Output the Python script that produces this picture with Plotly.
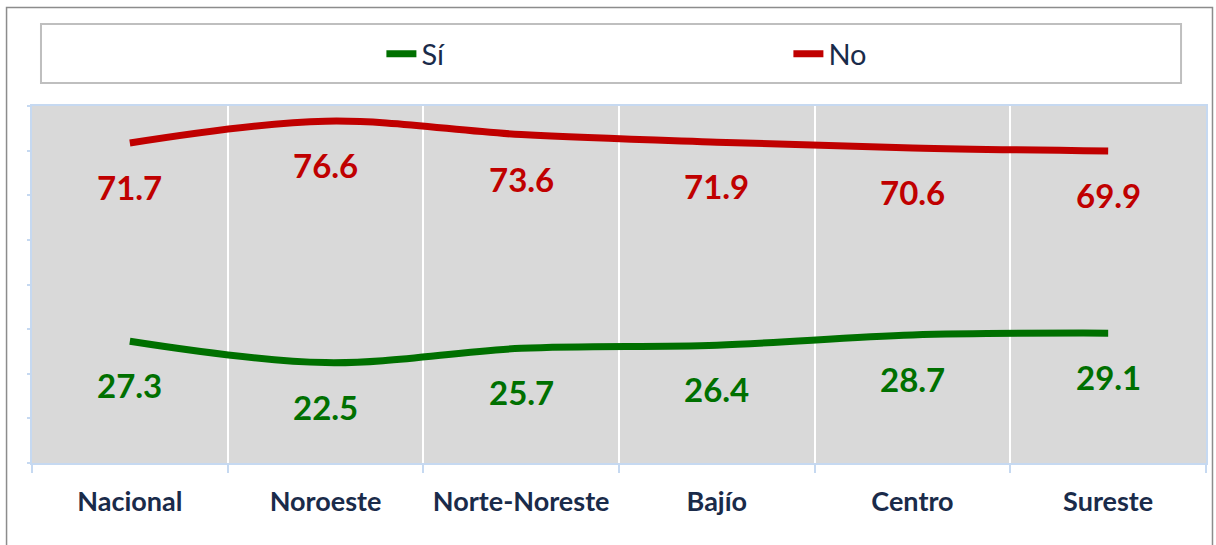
import plotly.graph_objects as go

categories = ["Nacional", "Noroeste", "Norte-Noreste", "Bajío", "Centro", "Sureste"]
si_values = [27.3, 22.5, 25.7, 26.4, 28.7, 29.1]
no_values = [71.7, 76.6, 73.6, 71.9, 70.6, 69.9]

GREEN = "#007000"
RED = "#C00000"
NAVY = "#1A2B4A"
FONT = "Lato"

W, H = 1216, 545
PLOT_L, PLOT_R, PLOT_T, PLOT_B = 32, 1208, 106, 463  # page pixels
L, R, T, B = PLOT_L, W - PLOT_R, PLOT_T, H - PLOT_B
pw, ph = W - L - R, H - T - B

def px_x(x):  # page pixel -> paper
    return (x - L) / pw

def px_y(y):
    return (H - B - y) / ph

fig = go.Figure()
fig.add_trace(go.Scatter(x=categories, y=si_values, name="Sí", mode="lines",
                         line=dict(color=GREEN, width=7, shape="spline", smoothing=1.0)))
fig.add_trace(go.Scatter(x=categories, y=no_values, name="No", mode="lines",
                         line=dict(color=RED, width=7, shape="spline", smoothing=1.0)))

annotations = []
for c, v in zip(categories, si_values):
    annotations.append(dict(x=c, y=v, xref="x", yref="y", text=f"{v:.1f}", showarrow=False,
                            yshift=-44, font=dict(family=FONT, size=33, color=GREEN, weight="bold")))
for c, v in zip(categories, no_values):
    annotations.append(dict(x=c, y=v, xref="x", yref="y", text=f"{v:.1f}", showarrow=False,
                            yshift=-44, font=dict(family=FONT, size=33, color=RED, weight="bold")))

shapes = [
    # outer chart border
    dict(type="rect", xref="paper", yref="paper", x0=px_x(6.5), x1=px_x(1214.5),
         y0=px_y(600), y1=px_y(7.5), line=dict(color="#8C8C8C", width=1.5), layer="below"),
    # legend box
    dict(type="rect", xref="paper", yref="paper", x0=px_x(41), x1=px_x(1183),
         y0=px_y(83), y1=px_y(24), line=dict(color="#BFBFBF", width=2), layer="below"),
]

fig.update_layout(
    width=W, height=H,
    margin=dict(l=L, r=R, t=T, b=B),
    paper_bgcolor="white",
    plot_bgcolor="#D9D9D9",
    font=dict(family=FONT, color=NAVY),
    showlegend=True,
    legend=dict(orientation="h", x=px_x(382), xanchor="left", xref="paper",
                y=px_y(54), yanchor="middle", yref="paper",
                entrywidth=362, entrywidthmode="pixels",
                font=dict(family=FONT, size=29, color=NAVY),
                bgcolor="rgba(0,0,0,0)"),
    annotations=annotations,
    shapes=shapes,
    xaxis=dict(type="category", range=[-0.5, 5.5], tickson="boundaries",
               showgrid=True, gridcolor="white", gridwidth=2,
               showline=True, linecolor="#C6D9F1", linewidth=2, mirror=True,
               ticks="outside", ticklen=8, tickcolor="#C6D9F1", tickwidth=2,
               ticklabelstandoff=14,
               tickfont=dict(family=FONT, size=27, color=NAVY, weight="bold"),
               zeroline=False, fixedrange=True),
    yaxis=dict(range=[0, 80], dtick=10, showgrid=False, zeroline=False,
               showline=True, linecolor="#C6D9F1", linewidth=2, mirror=True,
               ticks="outside", ticklen=3, tickcolor="#C6D9F1", tickwidth=2,
               showticklabels=False, fixedrange=True),
)

fig.write_html("out.html", config={"displayModeBar": False},
               post_script="document.body.style.margin='0';document.body.style.overflow='hidden';")
